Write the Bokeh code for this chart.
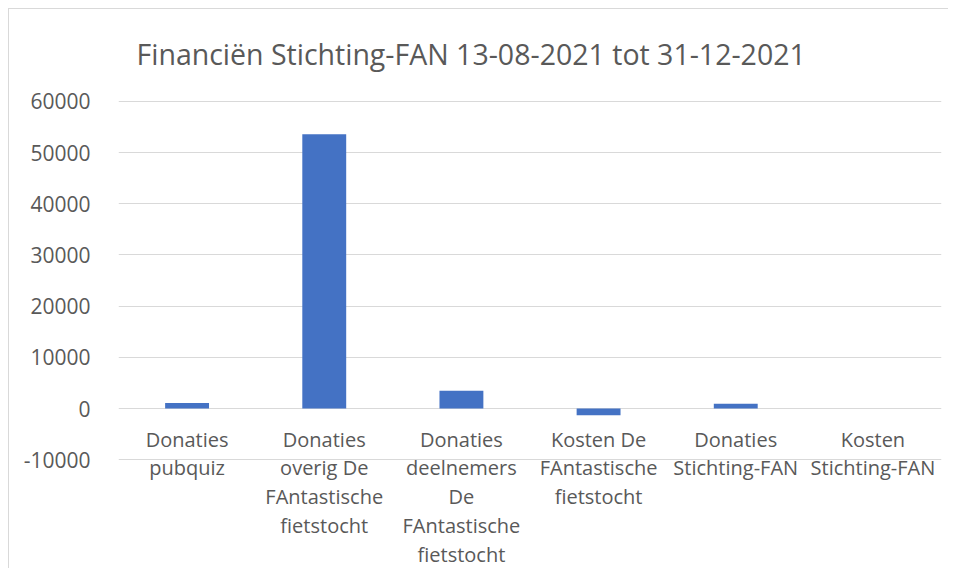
from bokeh.plotting import figure
from bokeh.models import FixedTicker, ColumnDataSource, Title, PrintfTickFormatter
from bokeh.core.properties import value
from bokeh.embed import file_html
from bokeh.resources import INLINE

categories = [
    "Donaties pubquiz",
    "Donaties overig De FAntastische fietstocht",
    "Donaties deelnemers De FAntastische fietstocht",
    "Kosten De FAntastische fietstocht",
    "Donaties Stichting-FAN",
    "Kosten Stichting-FAN",
]
label_lines = [
    "Donaties\npubquiz",
    "Donaties\noverig De\nFAntastische\nfietstocht",
    "Donaties\ndeelnemers\nDe\nFAntastische\nfietstocht",
    "Kosten De\nFAntastische\nfietstocht",
    "Donaties\nStichting-FAN",
    "Kosten\nStichting-FAN",
]
amounts = [1100, 53600, 3450, -1300, 950, 0]
y_ticks = [-10000, 0, 10000, 20000, 30000, 40000, 50000, 60000]
title_text = "Financiën Stichting-FAN 13-08-2021 tot 31-12-2021"

FONT = "Open Sans"
GREY = "#595959"

p = figure(
    width=940, height=560,
    x_range=categories,
    y_range=(-31460, 60970),
    output_backend="svg", toolbar_location=None,
    min_border_left=109, min_border_right=8, min_border_top=87, min_border_bottom=0,
    styles={"border-left": "1px solid #d9d9d9", "border-top": "1px solid #d9d9d9",
            "margin-left": "8px", "margin-top": "8px"},
)
p.x_range.range_padding = 0
p.outline_line_color = None
p.xaxis.visible = False
p.xgrid.visible = False

p.yaxis.ticker = FixedTicker(ticks=y_ticks)
p.yaxis.formatter = PrintfTickFormatter(format="%d")
p.yaxis.axis_line_color = None
p.yaxis.major_tick_line_color = None
p.yaxis.minor_tick_line_color = None
p.yaxis.major_label_text_color = GREY
p.yaxis.major_label_text_font = FONT
p.yaxis.major_label_text_font_size = "21px"
p.yaxis.major_label_standoff = 22
p.ygrid.grid_line_color = "#d9d9d9"
p.ygrid.grid_line_width = 1

src = ColumnDataSource(dict(cat=categories, amt=amounts, lab=label_lines,
                            zero=[0] * len(categories)))
p.vbar(x="cat", top="amt", bottom=0, width=0.32, source=src,
       fill_color="#4472C4", line_color=None)

p.text(x="cat", y="zero", text="lab", source=src,
       text_font=value(FONT), text_font_size="20px", text_color=GREY,
       text_align="center", text_baseline="top", y_offset=17,
       text_line_height=1.07)

t = Title(text=title_text, align="left", offset=18,
          text_font=FONT, text_font_size="28.5px", text_font_style="normal",
          text_color=GREY, standoff=47)
p.add_layout(t, "above")

open("out.html", "w").write(file_html(p, INLINE))
